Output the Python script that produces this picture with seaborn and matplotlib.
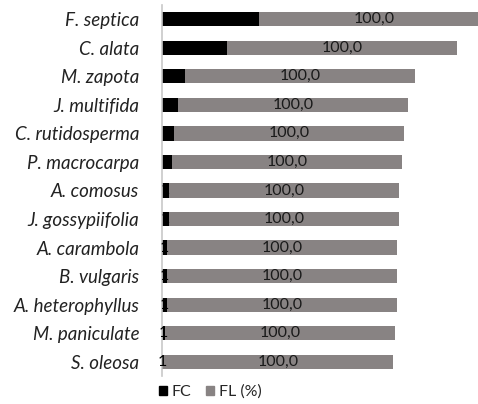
import pandas as pd
import matplotlib
matplotlib.use("Agg")
import matplotlib.pyplot as plt
import seaborn as sns
from matplotlib.patches import Patch

# species, top to bottom
species = ["F. septica", "C. alata", "M. zapota", "J. multifida", "C. rutidosperma",
           "P. macrocarpa", "A. comosus", "J. gossypiifolia", "A. carambola",
           "B. vulgaris", "A. heterophyllus", "M. paniculate", "S. oleosa"]
fc = [42.3, 28.4, 10.1, 7.1, 5.3, 4.5, 3.3, 3.3, 2.4, 2.4, 2.4, 1.6, 0.7]
fl = [100.0] * 13
# FC labels are black on black; only the tiny ones peek out
fc_labels = ["", "", "", "", "", "", "1", "1", "1", "1", "1", "1", "1"]

df = pd.DataFrame({"species": species, "FC": fc, "FL": fl})
df["total"] = df["FC"] + df["FL"]

sns.set_style("white")
plt.rcParams["font.family"] = ["Lato", "DejaVu Sans"]

gray = "#888383"
fig = plt.figure(figsize=(4.78, 4.04), dpi=100)
ax = fig.add_axes([0.338, 0.069, 0.662, 0.919])

# gray = FC + FL, black FC drawn on top -> stacked look
sns.barplot(data=df, y="species", x="total", color=gray, width=0.5,
            saturation=1, ax=ax, orient="h", linewidth=0)
sns.barplot(data=df, y="species", x="FC", color="black", width=0.5,
            saturation=1, ax=ax, orient="h", linewidth=0)

for i, row in df.iterrows():
    ax.text(row["FC"] + row["FL"] / 2, i, f"{row['FL']:.1f}".replace(".", ","),
            ha="center", va="center", fontsize=11.5, color="#1a1a1a")
    ax.text(row["FC"] / 2, i, fc_labels[i], ha="center", va="center",
            fontsize=11.5, color="black", clip_on=False)

ax.set_xlim(0, 137.5)
ax.set_ylim(12.5, -0.5)
ax.set_xlabel("")
ax.set_ylabel("")
ax.set_xticks([])
for s in ["top", "right", "bottom"]:
    ax.spines[s].set_visible(False)
ax.spines["left"].set_color("#c8c8c8")
ax.spines["left"].set_linewidth(1.2)
ax.tick_params(axis="y", length=0, pad=16)
for lab in ax.get_yticklabels():
    lab.set_fontstyle("italic")
    lab.set_fontsize(13.5)
    lab.set_color("#222222")

handles = [Patch(color="black", label="FC"), Patch(color=gray, label="FL (%)")]
fig.legend(handles=handles, loc="center", bbox_to_anchor=(0.44, 0.03), ncol=2,
           frameon=False, fontsize=11.5, handlelength=0.5, handleheight=0.5,
           handletextpad=0.3, columnspacing=0.9)

fig.savefig("out.png", dpi=100)
